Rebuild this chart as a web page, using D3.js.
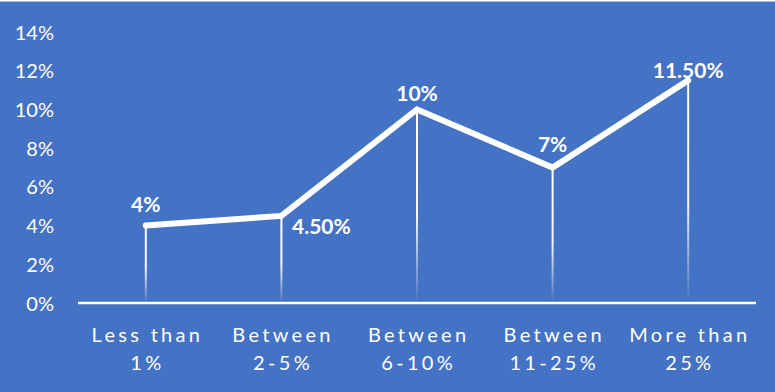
<!DOCTYPE html>
<html>
<head>
<meta charset="utf-8">
<script src="https://cdn.jsdelivr.net/npm/d3@7"></script>
<style>
  html, body { margin: 0; padding: 0; background: #4472C4; }
  svg { display: block; }
</style>
</head>
<body>
<script>
// Share of respondents by size bracket
const categories = [["Less than", "1%"], ["Between", "2-5%"], ["Between", "6-10%"], ["Between", "11-25%"], ["More than", "25%"]];
const values = [4, 4.5, 10, 7, 11.5];
const valueLabels = ["4%", "4.50%", "10%", "7%", "11.50%"];
const yTicks = [0, 2, 4, 6, 8, 10, 12, 14];

const W = 775, H = 392;
const svg = d3.select("body").append("svg").attr("width", W).attr("height", H);

svg.append("rect").attr("width", W).attr("height", H).attr("fill", "#4472C4");
svg.append("rect").attr("width", W).attr("height", 1.5).attr("fill", "#ffffff");

const x = d3.scaleBand().domain(d3.range(categories.length)).range([78, 756]);
const y = d3.scaleLinear().domain([0, 14]).range([303, 32]);
const cx = i => x(i) + x.bandwidth() / 2;

// fading drop lines
const defs = svg.append("defs");
const grad = defs.append("linearGradient").attr("id", "drop")
  .attr("x1", 0).attr("y1", 0).attr("x2", 0).attr("y2", 1);
grad.append("stop").attr("offset", "0%").attr("stop-color", "#fff").attr("stop-opacity", 1);
grad.append("stop").attr("offset", "55%").attr("stop-color", "#fff").attr("stop-opacity", 0.95);
grad.append("stop").attr("offset", "100%").attr("stop-color", "#fff").attr("stop-opacity", 0);

// y axis labels
const yAxis = d3.axisLeft(y).tickValues(yTicks).tickFormat(d => d + "%").tickSize(0).tickPadding(0);
const ya = svg.append("g").attr("transform", "translate(54,0)").call(yAxis);
ya.select(".domain").remove();
ya.selectAll("text").attr("fill", "#fff").attr("font-family", "Lato, 'Open Sans', sans-serif")
  .attr("font-size", 20).attr("dy", "0.35em");

// drop lines
svg.append("g").selectAll("rect").data(values).join("rect")
  .attr("x", (d, i) => cx(i) - 1)
  .attr("y", d => y(d))
  .attr("width", 2)
  .attr("height", d => y(0) - y(d))
  .attr("fill", "url(#drop)");

// baseline
svg.append("line").attr("x1", 78).attr("x2", 756).attr("y1", y(0)).attr("y2", y(0))
  .attr("stroke", "#fff").attr("stroke-width", 2.5);

// series line
const line = d3.line().x((d, i) => cx(i)).y(d => y(d));
svg.append("path").datum(values).attr("d", line)
  .attr("fill", "none").attr("stroke", "#fff").attr("stroke-width", 6)
  .attr("stroke-linejoin", "miter").attr("stroke-linecap", "round");

// value labels
const labelOffsets = [[0, -21], [40, 11], [0, -16], [0, -23], [0, -10]];
svg.append("g").selectAll("text").data(values).join("text")
  .attr("x", (d, i) => cx(i) + labelOffsets[i][0])
  .attr("y", (d, i) => y(d) + labelOffsets[i][1])
  .attr("text-anchor", "middle")
  .attr("dy", "0.35em")
  .attr("fill", "#fff")
  .attr("font-family", "Lato, 'Open Sans', sans-serif")
  .attr("font-weight", "bold")
  .attr("font-size", 21)
  .text((d, i) => valueLabels[i]);

// category labels (widely tracked)
const track = 3.3;
const cat = svg.append("g").selectAll("text").data(categories).join("text")
  .attr("x", (d, i) => cx(i) + track / 2)
  .attr("text-anchor", "middle")
  .attr("fill", "#fff")
  .attr("font-family", "Lato, 'Open Sans', sans-serif")
  .attr("font-size", 20)
  .attr("letter-spacing", track);
cat.selectAll("tspan").data(d => d).join("tspan")
  .attr("x", function () { return d3.select(this.parentNode).attr("x"); })
  .attr("y", (d, j) => j === 0 ? 342 : 370)
  .text(d => d);
</script>
</body>
</html>
